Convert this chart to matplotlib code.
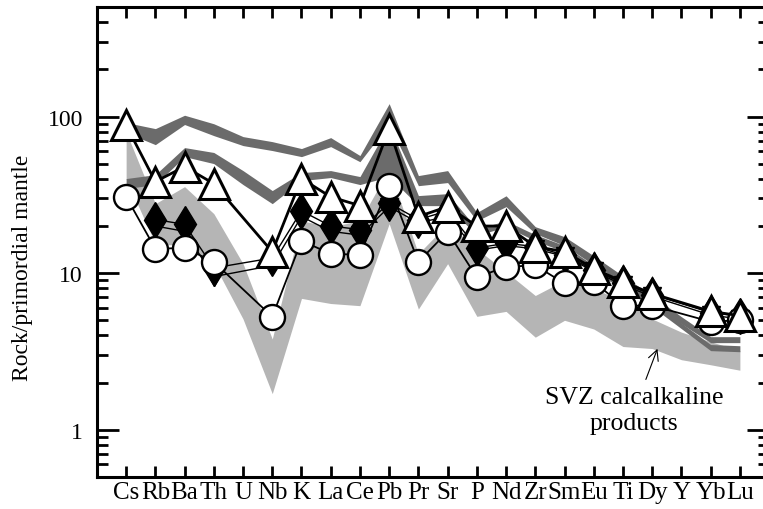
import numpy as np
import matplotlib.pyplot as plt
from matplotlib.ticker import FixedLocator, NullFormatter

plt.rcParams['font.family'] = ['Liberation Serif', 'DejaVu Serif']

elements = ['Cs', 'Rb', 'Ba', 'Th', 'U', 'Nb', 'K', 'La', 'Ce', 'Pb', 'Pr',
            'Sr', 'P', 'Nd', 'Zr', 'Sm', 'Eu', 'Ti', 'Dy', 'Y', 'Yb', 'Lu']
nan = np.nan

# light grey field: SVZ calcalkaline products
svz_hi = [80, 27.8, 35.7, 24.0, 11.5, 3.8, 21.6, 19.8, 21.6, 46.5, 13.3,
          20.7, 14.3, 10.2, 7.2, 9.0, 8.0, 6.6, 5.1, 4.2, 3.65, 3.2]
svz_lo = [40, 15.4, 15.0, 11.5, 5.1, 1.7, 6.9, 6.4, 6.2, 20.7, 5.9,
          11.5, 5.3, 5.7, 3.9, 5.0, 4.4, 3.4, 3.3, 2.8, 2.6, 2.4]

# dark grey fields
fa_hi = [91.6, 83.8, 102, 90, 74.5, 69.2, 62.5, 73.4, 56.4, 121, 42,
         45.2, 24.4, 31.2, 19.8, 17.1, 12.9, 9.6, 7.2, 5.27, 3.93, 3.93]
fa_lo = [79.1, 66.2, 89, 75.6, 65.3, 60.7, 55.5, 64.3, 51.5, 90, 36.2,
         37.9, 21.6, 26.6, 17.9, 15.0, 11.3, 8.7, 6.48, 4.75, 3.6, 3.6]
fb_hi = [40.2, 42.6, 63.4, 59, 45.2, 33.7, 43.9, 45.2, 41.4, 88.9, 31.3,
         32.2, 19.2, 21.6, 17.6, 15.0, 11.2, 8.7, 6.7, 4.8, 3.5, 3.44]
fb_lo = [34.7, 36.8, 55.5, 50.1, 36.8, 27.8, 39, 40.8, 36.8, 41.4, 27.0,
         27.0, 17.4, 19.8, 16.1, 13.7, 10.2, 7.96, 6.1, 4.42, 3.2, 3.15]

# samples
tri = [88, 38.4, 47.9, 37.3, nan, 13.7, 40.2, 30.7, 27, 83.8, 23,
       26.6, 20, 20, 14.8, 13.7, 10.7, 8.8, 7.4, nan, 5.7, 5.35]
circ = [30.8, 14.3, 14.5, 11.8, nan, 5.27, 16.1, 13.3, 13.1, 36.2, 11.8,
        18.4, 9.4, 11.0, 11.2, 8.6, 8.8, 6.2, 6.2, nan, 4.9, 5.0]
diam = [nan, 22, 20.5, 10.8, nan, 12.5, 25, 20, 19, 28, 22,
        25, 14.5, 15.5, 14.8, 13, 10.5, 8.6, 7.3, nan, 5.6, 5.3]
vtri = [nan, 20, 18.5, 9.5, nan, 11.2, 23, 18.5, 17.5, 26.5, 21,
        23, 14, 15, 14.3, 12.8, 10.3, 8.4, 7.1, nan, 5.4, 5.1]

x = np.arange(len(elements))

fig = plt.figure(figsize=(7.63, 5.10), dpi=100)
ax = fig.add_axes([0.127, 0.063, 0.881, 0.921])
ax.set_yscale('log')

ax.fill_between(x, svz_lo, svz_hi, color='#b5b5b5', lw=0, zorder=1)
ax.fill_between(x, fa_lo, fa_hi, color='#6b6b6b', lw=0, zorder=2)
ax.fill_between(x, fb_lo, fb_hi, color='#6b6b6b', lw=0, zorder=2)


def spider(vals, **kw):
    v = np.array(vals, dtype=float)
    m = ~np.isnan(v)
    ax.plot(x[m], v[m], color='black', **kw)


spider(vtri, marker='v', ms=13, mfc='black', mec='black', lw=1.0, zorder=3)
spider(diam, marker='d', ms=18, mfc='black', mec='black', lw=1.0, zorder=4)
spider(circ, marker='o', ms=18, mfc='white', mec='black', mew=1.7,
       lw=1.3, zorder=5)
spider(tri, marker='^', ms=21, mfc='white', mec='black', mew=2.2,
       lw=2.0, zorder=6)

ax.set_xlim(-1, 22)
ax.set_ylim(0.5, 500)

ax.set_xticks(x)
ax.set_xticklabels(elements, fontsize=18)
ax.tick_params(axis='x', which='major', direction='in', length=8, width=2,
               top=True, bottom=True, pad=3)

ax.yaxis.set_major_locator(FixedLocator([1, 10, 100]))
ax.set_yticklabels(['1', '10', '100'])
minor = [0.5, 0.6, 0.7, 0.8, 0.9] + list(range(2, 10)) + \
    list(range(20, 100, 10)) + [200, 300, 400]
ax.yaxis.set_minor_locator(FixedLocator(minor))
ax.yaxis.set_minor_formatter(NullFormatter())
ax.tick_params(axis='y', which='major', direction='in', length=16, width=2,
               left=True, right=True, labelsize=17, pad=10)
ax.tick_params(axis='y', which='minor', direction='in', length=8, width=2,
               left=True, right=True)

for s in ax.spines.values():
    s.set_linewidth(2.2)

ax.set_ylabel('Rock/primordial mantle', fontsize=17)
ax.yaxis.set_label_coords(-0.095, 0.447)

ax.annotate('SVZ calcalkaline\nproducts', xy=(18.18, 3.29),
            xytext=(17.39, 1.34), ha='center', va='center', fontsize=18.5,
            linespacing=1.2,
            arrowprops=dict(arrowstyle='->', color='black', lw=0.8,
                            shrinkA=3, shrinkB=0))

fig.savefig('out.png', dpi=100)
